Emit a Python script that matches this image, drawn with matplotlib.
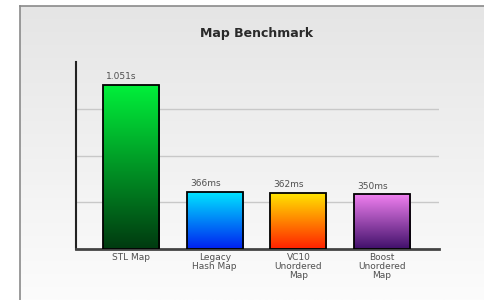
import numpy as np
import matplotlib.pyplot as plt
from matplotlib.colors import LinearSegmentedColormap

categories = ["STL Map", "Legacy\nHash Map", "VC10\nUnordered\nMap", "Boost\nUnordered\nMap"]
times = [1.051, 0.366, 0.362, 0.350]
value_labels = ["1.051s", "366ms", "362ms", "350ms"]
# top colour, bottom colour of each bar's gradient
gradients = [("#00f03a", "#003a10"),
             ("#00e8ff", "#0020f0"),
             ("#ffe800", "#ff2000"),
             ("#f080f0", "#40106a")]

fig = plt.figure(figsize=(4.85, 3.0), dpi=100)
fig.patch.set_facecolor("white")

# grey gradient panel behind the chart
bg = fig.add_axes([20 / 485, 0, 1 - 20 / 485, 1 - 6 / 300], zorder=0)
grad = np.linspace(0, 1, 256).reshape(-1, 1)
bg_cmap = LinearSegmentedColormap.from_list("bg", ["#e5e5e5", "#fcfcfc"])
bg.imshow(grad, aspect="auto", cmap=bg_cmap, extent=[0, 1, 0, 1], origin="upper")
bg.set_xticks([])
bg.set_yticks([])
for s in ["right", "bottom"]:
    bg.spines[s].set_visible(False)
for s in ["left", "top"]:
    bg.spines[s].set_color("#8a8a8a")
    bg.spines[s].set_linewidth(1.2)

fig.text(257 / 485, 1 - 33 / 300, "Map Benchmark", ha="center", va="center",
         fontsize=9, fontweight="bold", color="#2a2a2a")

ax = fig.add_axes([76 / 485, 1 - 249 / 300, (439 - 76) / 485, (249 - 62) / 300], zorder=1)
ax.patch.set_alpha(0)

x = np.arange(len(categories))
bars = ax.bar(x, times, width=0.67, color="none", edgecolor="black", linewidth=1.3, zorder=3)

for b, (top, bot), lab in zip(bars, gradients, value_labels):
    cmap = LinearSegmentedColormap.from_list("g", [bot, top])
    x0, y0 = b.get_x(), b.get_y()
    w, h = b.get_width(), b.get_height()
    im = ax.imshow(grad, aspect="auto", cmap=cmap, origin="lower",
                   extent=[x0, x0 + w, y0, y0 + h], zorder=2)
    im.set_clip_path(b)
    ax.text(x0 + 0.04, h + 0.025, lab, ha="left", va="bottom", fontsize=6.5, color="#505050")

ax.set_xlim(-0.657, 3.68)
ax.set_ylim(0, 1.2)
ax.set_yticks([0.3, 0.6, 0.9])
ax.yaxis.grid(True, color="#c8c8c8", linewidth=1.0)
ax.set_axisbelow(True)
ax.tick_params(axis="y", length=0, labelleft=False)
ax.set_xticks(x)
ax.set_xticklabels(categories, fontsize=6.5, color="#505050", linespacing=1.0)
ax.tick_params(axis="x", length=0, pad=3)
ax.spines["top"].set_visible(False)
ax.spines["right"].set_visible(False)
ax.spines["left"].set_color("#222222")
ax.spines["left"].set_linewidth(1.5)
ax.spines["bottom"].set_color("#444444")
ax.spines["bottom"].set_linewidth(2)

fig.savefig("out.png", dpi=100)
